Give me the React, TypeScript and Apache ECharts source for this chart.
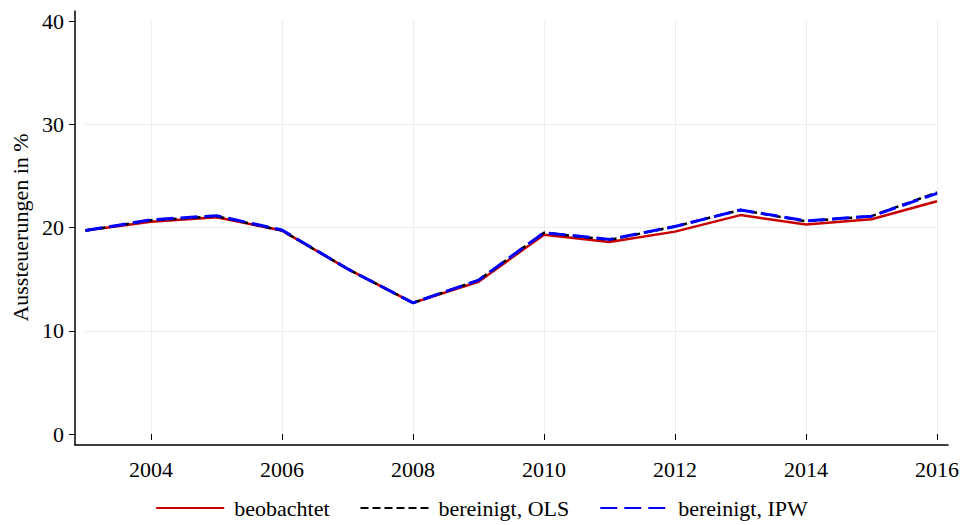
import React, { useEffect, useRef } from "react";
import * as echarts from "echarts";

const years = ["2003","2004","2005","2006","2007","2008","2009","2010","2011","2012","2013","2014","2015","2016"];
const beobachtet = [19.7, 20.55, 21.0, 19.7, 16.0, 12.7, 14.75, 19.3, 18.6, 19.6, 21.2, 20.3, 20.8, 22.55];
const bereinigtOLS = [19.7, 20.7, 21.1, 19.7, 16.0, 12.7, 14.9, 19.5, 18.8, 20.1, 21.7, 20.6, 21.1, 23.4];
const bereinigtIPW = [19.7, 20.75, 21.15, 19.75, 16.0, 12.7, 14.9, 19.5, 18.85, 20.1, 21.7, 20.65, 21.1, 23.3];
const yTicks = { min: 0, max: 40, interval: 10 };

const FONT = "Liberation Serif";
const FS = 22;

export default function App() {
  const ref = useRef<HTMLDivElement>(null);
  useEffect(() => {
    if (!ref.current) return;
    const chart = echarts.init(ref.current, null, { renderer: "svg" });
    const even = (i: number) => parseInt(years[i], 10) % 2 === 0;
    chart.setOption({
      animation: false,
      backgroundColor: "#ffffff",
      textStyle: { fontFamily: FONT, color: "#000" },
      grid: [
        { left: 85.5, right: 26, top: 21, bottom: 91 },
        { left: 75, right: 15, top: 11, bottom: 80 },
      ],
      xAxis: [
        {
          type: "category",
          gridIndex: 0,
          data: years,
          boundaryGap: false,
          offset: 11,
          axisLine: { show: false },
          axisTick: { show: true, interval: (i: number) => even(i), length: 6, lineStyle: { color: "#000", width: 1 } },
          axisLabel: { interval: (i: number) => even(i), margin: 13, fontSize: FS, fontFamily: FONT, color: "#000" },
          splitLine: { show: true, interval: (i: number) => even(i), lineStyle: { color: "#ececec", width: 1 } },
        },
        {
          type: "value",
          gridIndex: 1,
          min: 0,
          max: 1,
          axisLine: { show: true, onZero: false, lineStyle: { color: "#000", width: 1.5 } },
          axisTick: { show: false },
          axisLabel: { show: false },
          splitLine: { show: false },
        },
      ],
      yAxis: [
        {
          type: "value",
          gridIndex: 0,
          min: yTicks.min,
          max: yTicks.max,
          interval: yTicks.interval,
          offset: 10.5,
          name: "Aussteuerungen in %",
          nameLocation: "middle",
          nameGap: 44,
          nameTextStyle: { fontSize: FS, fontFamily: FONT, color: "#000" },
          axisLine: { show: false },
          axisTick: { show: true, length: 6, lineStyle: { color: "#000", width: 1 } },
          axisLabel: { margin: 11, fontSize: FS, fontFamily: FONT, color: "#000" },
          splitLine: { show: true, showMinLine: false, showMaxLine: false, lineStyle: { color: "#ececec", width: 1 } },
        },
        {
          type: "value",
          gridIndex: 1,
          min: 0,
          max: 1,
          axisLine: { show: true, onZero: false, lineStyle: { color: "#000", width: 1.5 } },
          axisTick: { show: false },
          axisLabel: { show: false },
          splitLine: { show: false },
        },
      ],
      legend: {
        left: "center",
        top: 497,
        itemWidth: 68,
        itemHeight: 14,
        itemGap: 30,
        padding: 0,
        itemStyle: { opacity: 0 },
        textStyle: { fontSize: FS, fontFamily: FONT, color: "#000", padding: [0, 0, 0, 5] },
        data: ["beobachtet", "bereinigt, OLS", "bereinigt, IPW"],
      },
      series: [
        {
          name: "beobachtet",
          type: "line",
          xAxisIndex: 0,
          yAxisIndex: 0,
          data: beobachtet,
          symbol: "none",
          lineStyle: { color: "#c80000", width: 2.5, type: "solid" },
          itemStyle: { color: "#c80000" },
        },
        {
          name: "bereinigt, OLS",
          type: "line",
          xAxisIndex: 0,
          yAxisIndex: 0,
          data: bereinigtOLS,
          symbol: "none",
          lineStyle: { color: "#000000", width: 2.5, type: [8, 4] },
          itemStyle: { color: "#000000" },
        },
        {
          name: "bereinigt, IPW",
          type: "line",
          xAxisIndex: 0,
          yAxisIndex: 0,
          data: bereinigtIPW,
          symbol: "none",
          lineStyle: { color: "#0000ff", width: 3, type: [17, 7] },
          itemStyle: { color: "#0000ff" },
        },
      ],
    });
    return () => chart.dispose();
  }, []);
  return <div ref={ref} style={{ position: "fixed", left: 0, top: 0, width: 963, height: 525 }} />;
}
